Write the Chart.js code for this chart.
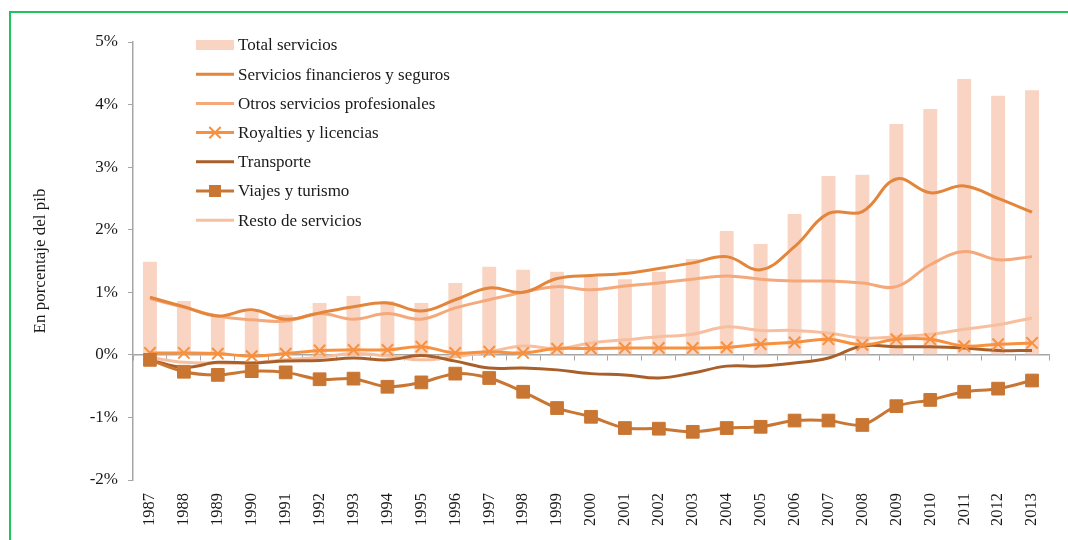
<!DOCTYPE html>
<html>
<head>
<meta charset="utf-8">
<script src="https://cdn.jsdelivr.net/npm/chart.js@4.4.0/dist/chart.umd.min.js"></script>
<style>
    body { margin: 0; background: #fff; overflow: hidden; }
    #wrap { position: absolute; left: 0; top: 0; width: 1068px; height: 540px; }
    #frame { position: absolute; left: 9px; top: 11px; width: 1080px; height: 560px; border: 2px solid #1fc25c; }
</style>
</head>
<body>
<div id="wrap">
    <div id="frame"></div>
    <canvas id="myChart" width="1068" height="540"></canvas>
</div>
<script>
// D A T A
const years = ["1987", "1988", "1989", "1990", "1991", "1992", "1993", "1994", "1995", "1996", "1997", "1998", "1999", "2000",
    "2001", "2002", "2003", "2004", "2005", "2006", "2007", "2008", "2009", "2010", "2011", "2012", "2013"];

const totalServicios = [1.49, 0.86, 0.63, 0.69, 0.64, 0.83, 0.94, 0.86, 0.83, 1.15, 1.41, 1.36, 1.33, 1.25,
    1.21, 1.33, 1.53, 1.98, 1.77, 2.25, 2.86, 2.88, 3.69, 3.93, 4.41, 4.14, 4.23];
const financieros = [0.92, 0.77, 0.62, 0.72, 0.57, 0.67, 0.77, 0.83, 0.70, 0.88, 1.07, 1.00, 1.22, 1.27,
    1.30, 1.38, 1.47, 1.57, 1.36, 1.73, 2.26, 2.29, 2.81, 2.59, 2.70, 2.50, 2.28];
const otrosProfesionales = [0.90, 0.76, 0.62, 0.56, 0.54, 0.66, 0.57, 0.66, 0.57, 0.75, 0.88, 1.00, 1.09, 1.04,
    1.10, 1.15, 1.21, 1.26, 1.21, 1.18, 1.18, 1.15, 1.09, 1.44, 1.65, 1.52, 1.57];
const royalties = [0.03, 0.03, 0.02, -0.02, 0.02, 0.07, 0.08, 0.08, 0.13, 0.03, 0.05, 0.03, 0.10, 0.10,
    0.11, 0.11, 0.11, 0.12, 0.17, 0.20, 0.25, 0.16, 0.25, 0.25, 0.14, 0.17, 0.19];
const transporte = [-0.08, -0.20, -0.12, -0.13, -0.10, -0.09, -0.05, -0.08, -0.01, -0.10, -0.21, -0.21, -0.24, -0.30,
    -0.32, -0.37, -0.29, -0.18, -0.18, -0.13, -0.05, 0.14, 0.13, 0.13, 0.11, 0.07, 0.07];
const viajes = [-0.08, -0.27, -0.32, -0.26, -0.28, -0.39, -0.38, -0.51, -0.44, -0.30, -0.37, -0.59, -0.85, -0.99,
    -1.17, -1.18, -1.23, -1.17, -1.15, -1.05, -1.05, -1.12, -0.82, -0.72, -0.59, -0.54, -0.41];
const resto = [-0.04, -0.12, -0.13, -0.13, -0.08, -0.04, 0.02, -0.02, -0.08, -0.03, 0.05, 0.14, 0.10, 0.19,
    0.24, 0.29, 0.33, 0.45, 0.39, 0.39, 0.35, 0.27, 0.29, 0.33, 0.41, 0.48, 0.59];

const yTicks = [-2, -1, 0, 1, 2, 3, 4, 5];

const FONT = "'Liberation Serif', 'DejaVu Serif', serif";
const AXIS_GREY = "#a6a6a6";

// L E G E N D A  (narisana rocno, v grafu zgoraj levo)
const legendPlugin = {
    id: "sideLegend",
    afterDraw(chart) {
        const ctx = chart.ctx;
        const x0 = 196, x1 = 234, tx = 238;
        let y = 45;
        ctx.save();
        ctx.font = "17px " + FONT;
        ctx.textBaseline = "middle";
        chart.data.datasets.forEach((ds) => {
            if (ds.type === "bar") {
                ctx.fillStyle = ds.backgroundColor;
                ctx.fillRect(x0, y - 5, x1 - x0, 10);
            } else {
                ctx.strokeStyle = ds.borderColor;
                ctx.lineWidth = ds.borderWidth;
                ctx.beginPath();
                ctx.moveTo(x0, y);
                ctx.lineTo(x1, y);
                ctx.stroke();
                if (ds.pointStyle === "rect") {
                    ctx.fillStyle = ds.pointBackgroundColor;
                    ctx.fillRect((x0 + x1) / 2 - 6, y - 6, 12, 12);
                } else if (ds.pointRadius > 0) {
                    ctx.lineWidth = ds.pointBorderWidth || 2;
                    Chart.helpers.drawPoint(ctx, {
                        pointStyle: ds.pointStyle,
                        radius: ds.pointRadius,
                        rotation: 0,
                        borderWidth: ds.pointBorderWidth || 2
                    }, (x0 + x1) / 2, y);
                }
            }
            ctx.fillStyle = "#1a1a1a";
            ctx.fillText(ds.label, tx, y + 1);
            y += 29.2;
        });
        ctx.restore();
    }
};

const ctx = document.getElementById("myChart");

new Chart(ctx, {
    type: "bar",
    data: {
        labels: years,
        datasets: [
            {
                type: "bar",
                label: "Total servicios",
                data: totalServicios,
                backgroundColor: "#f9d4c3",
                categoryPercentage: 1,
                barPercentage: 0.41,
                order: 10,
            },
            {
                type: "line",
                label: "Servicios financieros y seguros",
                data: financieros,
                borderColor: "#e3853a",
                borderWidth: 3,
                pointRadius: 0,
                tension: 0.4,
                order: 2,
            },
            {
                type: "line",
                label: "Otros servicios profesionales",
                data: otrosProfesionales,
                borderColor: "#f5a97b",
                borderWidth: 3,
                pointRadius: 0,
                tension: 0.4,
                order: 3,
            },
            {
                type: "line",
                label: "Royalties y licencias",
                data: royalties,
                borderColor: "#f7913f",
                borderWidth: 3,
                pointStyle: "crossRot",
                pointRadius: 8,
                pointBorderWidth: 2,
                pointBorderColor: "#f7913f",
                tension: 0.4,
                order: 4,
            },
            {
                type: "line",
                label: "Transporte",
                data: transporte,
                borderColor: "#a95f2a",
                borderWidth: 3,
                pointRadius: 0,
                tension: 0.4,
                order: 5,
            },
            {
                type: "line",
                label: "Viajes y turismo",
                data: viajes,
                borderColor: "#c97633",
                borderWidth: 3,
                pointStyle: "rect",
                pointRadius: 9,
                pointBorderWidth: 1,
                pointBackgroundColor: "#c97633",
                pointBorderColor: "#c97633",
                tension: 0.3,
                order: 1,
            },
            {
                type: "line",
                label: "Resto de servicios",
                data: resto,
                borderColor: "#f8bf9f",
                borderWidth: 3,
                pointRadius: 0,
                tension: 0.4,
                order: 6,
            },
        ],
    },
    options: {
        responsive: false,
        animation: false,
        layout: {
            padding: { left: 10, top: 42, right: 19, bottom: 0 },
        },
        plugins: {
            legend: { display: false },
            tooltip: { enabled: false },
        },
        scales: {
            x: {
                offset: true,
                grid: { display: false, drawTicks: false },
                border: { display: false },
                ticks: {
                    font: { family: FONT, size: 16.5 },
                    color: "#1a1a1a",
                    minRotation: 90,
                    maxRotation: 90,
                    padding: 13,
                },
                afterFit(scale) {
                    scale.height = 60;
                },
            },
            // os pri nicli s kljukicami med kategorijami
            x2: {
                type: "category",
                position: { y: 0 },
                offset: true,
                grid: {
                    offset: true,
                    drawOnChartArea: false,
                    tickLength: 5,
                    color: AXIS_GREY,
                },
                border: { color: AXIS_GREY, width: 1.5 },
                ticks: { display: false },
            },
            y: {
                min: -2,
                max: 5,
                afterBuildTicks(scale) {
                    scale.ticks = yTicks.map((v) => ({ value: v }));
                },
                grid: {
                    drawOnChartArea: false,
                    tickLength: 5,
                    color: AXIS_GREY,
                },
                border: { color: AXIS_GREY, width: 1.5 },
                ticks: {
                    font: { family: FONT, size: 17 },
                    color: "#1a1a1a",
                    padding: 10,
                    callback: (v) => v + "%",
                },
                title: {
                    display: true,
                    text: "En porcentaje del pib",
                    font: { family: FONT, size: 17 },
                    color: "#1a1a1a",
                    padding: { top: 20, bottom: 0 },
                },
                afterFit(scale) {
                    scale.width = 123;
                },
            },
        },
    },
    plugins: [legendPlugin],
});
</script>
</body>
</html>
